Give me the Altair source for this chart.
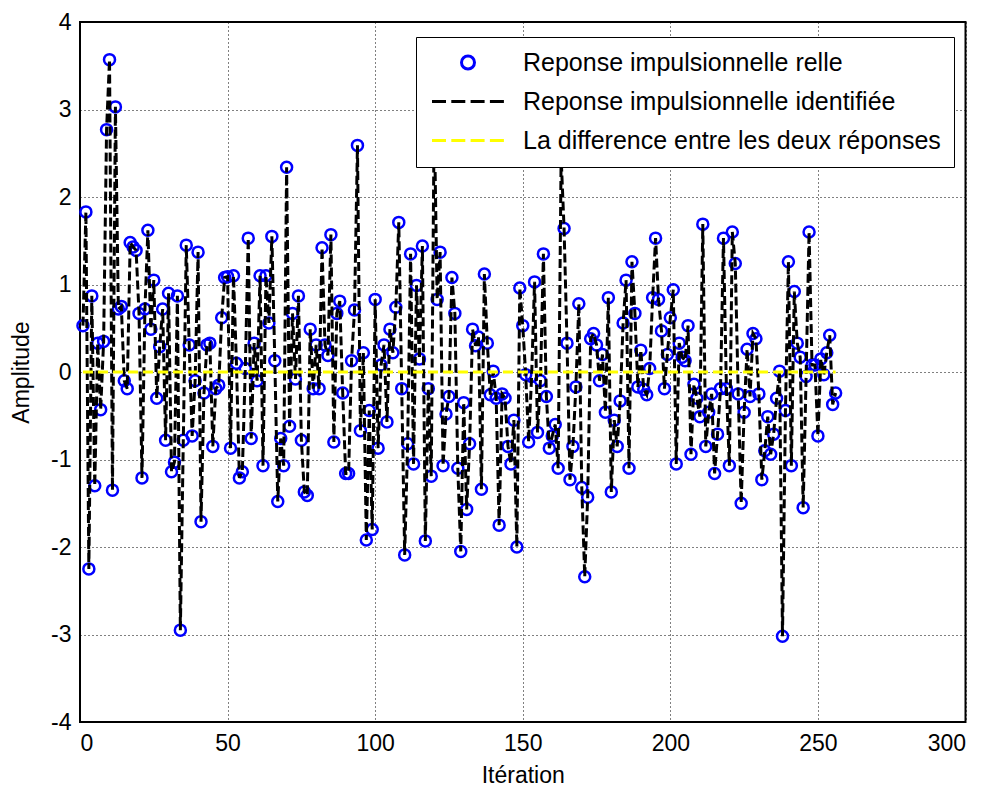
import altair as alt
import pandas as pd

# Reponse impulsionnelle relle (iterations 1..256)
reponse_relle = [
    0.53, 1.83, -2.25, 0.87, -1.30, 0.33, -0.43, 0.35, 2.77, 3.57,
    -1.35, 3.03, 0.72, 0.75, -0.10, -0.19, 1.48, 1.43, 1.39, 0.67,
    -1.21, 0.72, 1.62, 0.49, 1.05, -0.30, 0.29, 0.72, -0.78, 0.90,
    -1.14, -1.03, 0.87, -2.95, -0.78, 1.45, 0.31, -0.73, -0.10, 1.37,
    -1.71, -0.24, 0.31, 0.33, -0.85, -0.19, -0.15, 0.62, 1.08, 1.09,
    -0.87, 1.10, 0.10, -1.21, -1.14, 0.04, 1.53, -0.76, 0.33, -0.10,
    1.10, -1.07, 1.10, 0.56, 1.55, 0.13, -1.48, -0.76, -1.07, 2.34,
    -0.62, 0.67, -0.08, 0.87, -0.78, -1.37, -1.41, 0.49, -0.19, 0.31,
    -0.19, 1.42, 0.31, 0.19, 1.57, -0.80, 0.67, 0.81, -0.24, -1.16,
    -1.16, 0.13, 0.71, 2.59, -0.67, 0.22, -1.92, -0.44, -1.80, 0.83,
    -0.87, 0.08, 0.31, -0.57, 0.49, 0.22, 0.74, 1.71, -0.19, -2.09,
    -0.82, 1.35, -1.05, 0.99, 0.15, 1.44, -1.93, -0.19, -1.19, 2.95,
    0.83, 1.37, -1.07, -0.48, -0.28, 1.08, 0.67, -1.10, -2.05, -0.35,
    -1.57, -0.82, 0.49, 0.30, 0.40, -1.34, 1.12, 0.33, -0.26, 0.01,
    -0.30, -1.75, -0.25, -0.30, -0.85, -1.05, -0.55, -2.00, 0.96, 0.53,
    -0.03, -0.80, -0.05, 1.03, -0.69, -0.10, 1.35, -0.28, -0.87, -0.73,
    -0.60, -1.10, 2.46, 1.64, 0.33, -1.23, -0.85, -0.17, 0.78, -1.32,
    -2.34, -1.43, 0.38, 0.44, 0.31, -0.10, 0.20, -0.46, 0.85, -1.37,
    -0.55, -0.85, -0.33, 0.56, 1.05, -1.10, 1.26, 0.67, -0.17, 0.25,
    -0.20, -0.26, 0.04, 0.85, 1.53, 0.83, 0.47, -0.19, 0.20, 0.62,
    0.94, -1.05, 0.33, 0.17, 0.13, 0.53, -0.94, -0.14, -0.30, -0.51,
    1.69, -0.85, -0.46, -0.25, -1.16, -0.71, -0.19, 1.53, -0.19, -1.07,
    1.60, 1.24, -0.25, -1.50, -0.46, 0.26, -0.28, 0.44, 0.38, -0.25,
    -1.23, -0.90, -0.51, -0.94, -0.71, -0.30, 0.01, -3.02, -0.44, 1.26,
    -1.07, 0.92, 0.33, 0.17, -1.55, -0.05, 1.60, 0.08, 0.08, -0.73,
    0.15, -0.03, 0.22, 0.42, -0.37, -0.24,
]
# the identified response coincides with the real one in the figure
reponse_identifiee = list(reponse_relle)
iterations = list(range(1, len(reponse_relle) + 1))
difference = [a - b for a, b in zip(reponse_relle, reponse_identifiee)]

S1 = "Reponse impulsionnelle relle"
S2 = "Reponse impulsionnelle identifiée"
S3 = "La difference entre les deux réponses"
series_names = [S1, S2, S3]
series_colors = ["#0000ff", "#000000", "#ffff00"]

x_ticks = [0, 50, 100, 150, 200, 250, 300]
y_ticks = [-4, -3, -2, -1, 0, 1, 2, 3, 4]

df_real = pd.DataFrame({"x": iterations, "y": reponse_relle, "serie": S1})
df_ident = pd.DataFrame({"x": iterations, "y": reponse_identifiee, "serie": S2})
df_diff = pd.DataFrame({"x": iterations, "y": difference, "serie": S3})

FONT = "Liberation Sans"

color_scale = alt.Scale(domain=series_names, range=series_colors)

circle_path = "M2.0,0A0.65,0.65,0,1,1,3.3,0A0.65,0.65,0,1,1,2.0,0Z"
dash_path = "M-0.95,0H0.45M0.98,0H2.38M2.91,0H4.31M4.84,0H6.24"

legend = alt.Legend(
    title=None,
    orient="none",
    legendX=336,
    legendY=15,
    fillColor="white",
    strokeColor="black",
    padding=13,
    labelFont=FONT,
    labelFontSize=25,
    labelColor="black",
    labelLimit=800,
    symbolSize=400,
    labelOffset=69,
    rowPadding=13,
    symbolType=alt.ExprRef(f"datum.value === '{S1}' ? '{circle_path}' : '{dash_path}'"),
    symbolFillColor="transparent",
    symbolStrokeWidth=3,
)

x_enc = alt.X(
    "x:Q",
    scale=alt.Scale(domain=[0, 300], nice=False),
    axis=alt.Axis(values=x_ticks, title="Itération", labelPadding=10, titlePadding=9,
                  labelExpr="'' + datum.value"),
)
y_enc = alt.Y(
    "y:Q",
    scale=alt.Scale(domain=[-4, 4], nice=False),
    axis=alt.Axis(values=y_ticks, title="Amplitude", labelPadding=9, titlePadding=17,
                  labelExpr="'' + datum.value"),
)
color_enc = alt.Color("serie:N", scale=color_scale, legend=legend)

points = alt.Chart(df_real).mark_point(
    filled=False, size=121, strokeWidth=2.5, opacity=1
).encode(x=x_enc, y=y_enc, color=color_enc)

line_ident = alt.Chart(df_ident).mark_line(
    strokeWidth=3, strokeDash=[9, 4]
).encode(x=x_enc, y=y_enc, color=color_enc)

line_diff = alt.Chart(df_diff).mark_line(
    strokeWidth=3, strokeDash=[10, 5]
).encode(x=x_enc, y=y_enc, color=color_enc)

chart = (
    alt.layer(points, line_ident, line_diff)
    .properties(
        width=885.5,
        height=700,
        autosize=alt.AutoSizeParams(type="none"),
        padding={"left": 80, "top": 22, "right": 27, "bottom": 67},
        background="white",
    )
    .configure_view(stroke="black", strokeWidth=2)
    .configure_axis(
        labelFont=FONT,
        labelFontSize=23,
        labelColor="black",
        titleFont=FONT,
        titleFontSize=23,
        titleFontWeight="normal",
        titleColor="black",
        grid=True,
        gridColor="black",
        gridDash=[1, 3],
        gridOpacity=1,
        gridWidth=1,
        domain=False,
        ticks=False,
    )
)

chart.save("out.html", embed_options={"renderer": "svg", "actions": False})
